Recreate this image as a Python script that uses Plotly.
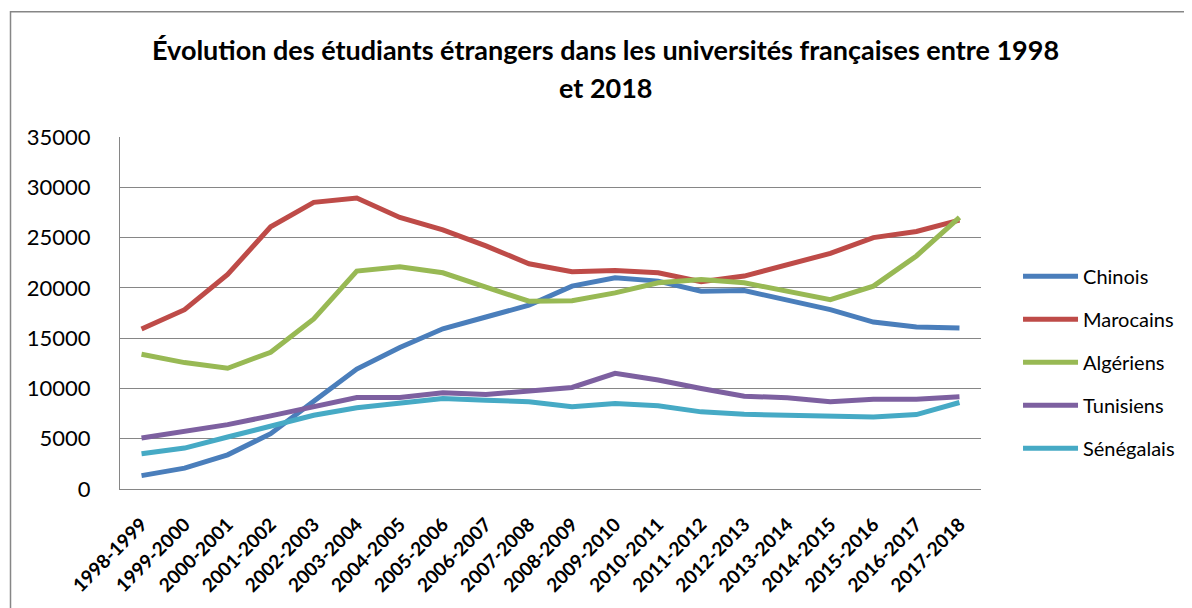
import plotly.graph_objects as go

annees = ["1998-1999", "1999-2000", "2000-2001", "2001-2002", "2002-2003",
          "2003-2004", "2004-2005", "2005-2006", "2006-2007", "2007-2008",
          "2008-2009", "2009-2010", "2010-2011", "2011-2012", "2012-2013",
          "2013-2014", "2014-2015", "2015-2016", "2016-2017", "2017-2018"]

chinois = [1330, 2070, 3400, 5500, 8730, 11930, 14070, 15930, 17100, 18270,
           20170, 21000, 20670, 19670, 19730, 18730, 17830, 16600, 16100, 16000]
marocains = [15900, 17830, 21330, 26070, 28500, 28930, 27000, 25770, 24170, 22400,
             21600, 21730, 21500, 20600, 21170, 22330, 23430, 25000, 25600, 26730]
algeriens = [13400, 12570, 12000, 13600, 16900, 21670, 22100, 21500, 20070, 18670,
             18730, 19500, 20500, 20830, 20500, 19670, 18830, 20170, 23170, 27000]
tunisiens = [5070, 5730, 6400, 7270, 8170, 9100, 9100, 9570, 9400, 9730,
             10100, 11500, 10830, 10000, 9230, 9070, 8670, 8930, 8930, 9170]
senegalais = [3500, 4070, 5170, 6270, 7330, 8070, 8570, 9000, 8830, 8670,
              8170, 8500, 8270, 7670, 7430, 7330, 7170, 7170, 7400, 8600]

series = [
    ("Chinois", chinois, "#4A7EBB"),
    ("Marocains", marocains, "#BE4B48"),
    ("Algériens", algeriens, "#98B954"),
    ("Tunisiens", tunisiens, "#7D60A0"),
    ("Sénégalais", senegalais, "#46AAC5"),
]

FONT = "Lato, Carlito, Calibri, sans-serif"

fig = go.Figure()
for nom, vals, couleur in series:
    fig.add_trace(go.Scatter(
        x=annees, y=vals, name=nom, mode="lines",
        line=dict(color=couleur, width=5),
        legendgroup=nom,
    ))

# the page body has an 8px margin, so the figure is 8px smaller on each side
fig.update_layout(
    width=1184, height=600,
    margin=dict(l=112, r=199, t=129, b=113),
    paper_bgcolor="white", plot_bgcolor="white",
    font=dict(family=FONT, color="black"),
    showlegend=True,
    legend=dict(
        x=1.043, y=0.36, xanchor="left", yanchor="middle",
        font=dict(size=20, family=FONT),
        tracegroupgap=14, itemwidth=55,
    ),
    xaxis=dict(
        type="category", range=[-0.5, 19.5],
        showgrid=False, showline=True, linecolor="#868686", linewidth=1,
        tickangle=-45, tickfont=dict(size=19, family=FONT, color="black", weight="bold"),
        ticks="", ticklabelstandoff=16,
    ),
    yaxis=dict(
        range=[0, 35000], dtick=5000,
        showgrid=True, gridcolor="#868686", gridwidth=1,
        showline=True, linecolor="#868686", linewidth=1,
        zeroline=False, tickformat="d",
        tickfont=dict(size=22, family=FONT, color="black"),
        ticks="", ticklabelstandoff=24,
    ),
)

fig.add_annotation(
    text="<b>Évolution des étudiants étrangers dans les universités françaises entre 1998</b>",
    xref="paper", yref="paper", x=(608 - 120) / 865, y=(487 - 50) / 350,
    xanchor="center", yanchor="middle", showarrow=False,
    font=dict(size=27, family=FONT, color="black"),
)
fig.add_annotation(
    text="<b>et 2018</b>",
    xref="paper", yref="paper", x=(608 - 120) / 865, y=(487 - 88) / 350,
    xanchor="center", yanchor="middle", showarrow=False,
    font=dict(size=27, family=FONT, color="black"),
)

# cadre du graphique
fig.add_shape(
    type="rect", xref="paper", yref="paper",
    x0=(10 - 120) / 865, x1=(1200 - 120) / 865,
    y0=(487 - 620) / 350, y1=(487 - 12.5) / 350,
    line=dict(color="#868686", width=1.5), fillcolor="rgba(0,0,0,0)",
    layer="below",
)

fig.write_html("out.html")
